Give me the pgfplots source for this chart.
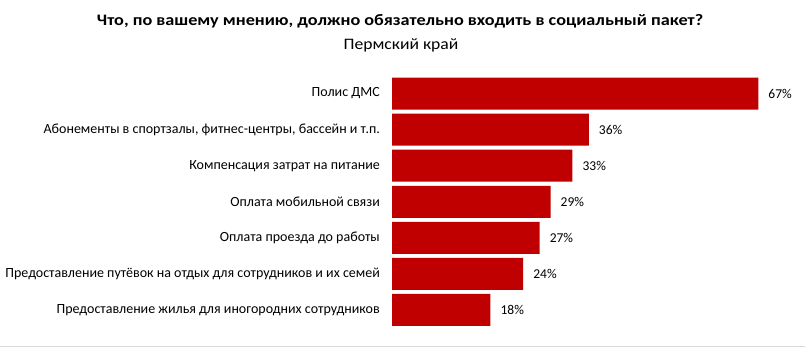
\documentclass[border=0pt]{standalone}
\usepackage{fontspec}
\setmainfont{Carlito}
\usepackage{pgfplots}
\pgfplotsset{compat=1.18}
\definecolor{barred}{HTML}{C00000}
\begin{document}
\begin{tikzpicture}
\useasboundingbox (0,0) rectangle (805bp,353bp);
\begin{axis}[
  at={(392bp,25bp)}, anchor=south west,
  scale only axis, width=410bp, height=252.5bp,
  xbar, xmin=0, xmax=75, ymin=0.5, ymax=7.5,
  bar width=32bp,
  axis line style={draw=none},
  major tick length=0pt,
  xtick=\empty,
  ytick={1,2,3,4,5,6,7},
  yticklabels={Предоставление жилья для иногородних сотрудников,
    Предоставление путёвок на отдых для сотрудников и их семей,
    Оплата проезда до работы,
    Оплата мобильной связи,
    Компенсация затрат на питание,
    Абонементы  в спортзалы{,} фитнес-центры{,} бассейн и т.п.,
    Полис ДМС},
  yticklabel style={anchor=east, inner sep=0pt, xshift=-12bp, font=\fontsize{14bp}{16bp}\selectfont},
  /pgf/number format/assume math mode=true,
  nodes near coords={\pgfmathprintnumber{\pgfplotspointmeta}\%},
  nodes near coords style={anchor=west, inner sep=0pt, xshift=10bp, font=\fontsize{13.5bp}{15bp}\selectfont, text=black},
  clip=false,
]
\addplot[fill=barred, draw=none] coordinates {(18,1) (24,2) (27,3) (29,4) (33,5) (36,6) (67,7)};
\end{axis}
\node[font=\bfseries\fontsize{16bp}{18bp}\selectfont] at (400bp,332bp) {\scalebox{1.137}[1]{Что, по вашему мнению, должно обязательно входить в социальный пакет?}};
\node[font=\fontsize{16bp}{18bp}\selectfont] at (401bp,308bp) {\scalebox{1.1}[1]{Пермский край}};
\draw[black!15, line width=1bp] (0,6bp) -- (805bp,6bp);
\end{tikzpicture}
\end{document}
